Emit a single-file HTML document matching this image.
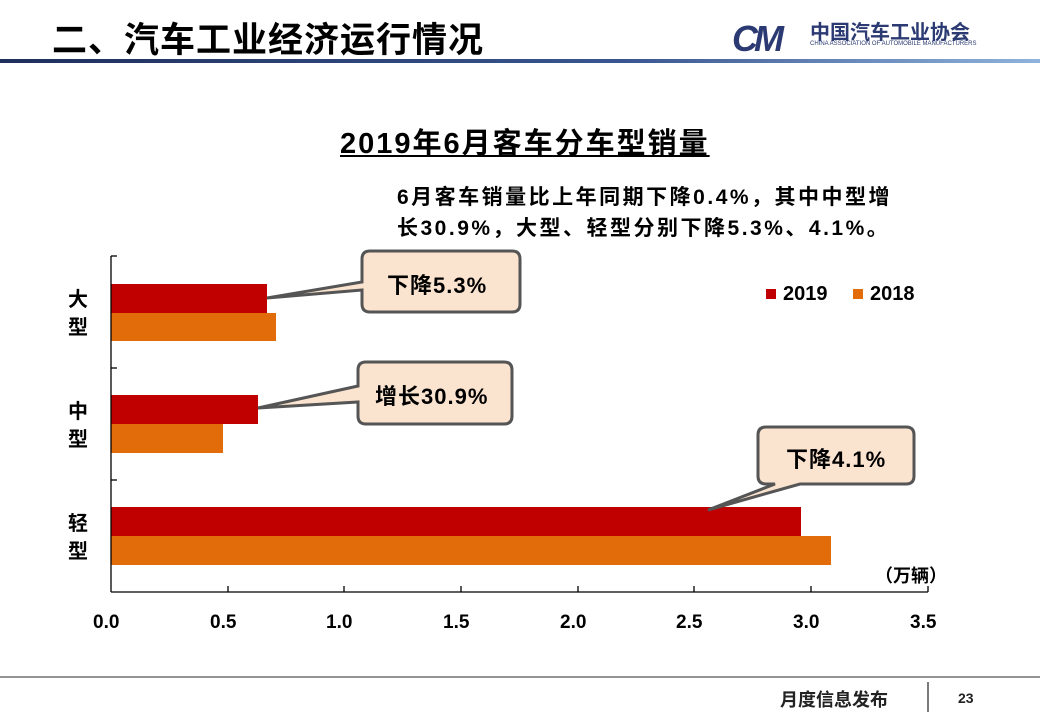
<!DOCTYPE html>
<html><head><meta charset="utf-8"><style>
body{margin:0;width:1040px;height:720px;background:#fff;overflow:hidden;position:relative;font-family:"Liberation Sans","Noto Sans CJK SC",sans-serif;}
.a{position:absolute;font-weight:bold;color:#000;white-space:nowrap}
</style></head><body>
<div class="a" style="left:52px;top:12px;font-size:35px;letter-spacing:1px">二、汽车工业经济运行情况</div>
<div style="position:absolute;left:0;top:59px;width:1040px;height:4px;background:linear-gradient(90deg,#1e2f5c,#3a5590 60%,#8fb3dc)"></div>
<div class="a" style="left:732px;top:18px;font-size:36px;color:#2b3a72;font-style:italic;letter-spacing:-4px">CM</div>
<div class="a" style="left:810px;top:16px;font-size:20px;color:#2b3a72">中国汽车工业协会</div>
<div class="a" style="left:810px;top:41px;font-size:6px;color:#2b3a72;font-weight:normal">CHINA ASSOCIATION OF AUTOMOBILE MANUFACTURERS</div>
<div class="a" style="left:340px;top:120px;font-size:29px;letter-spacing:2px;text-decoration:underline">2019年6月客车分车型销量</div>
<div class="a" style="left:397px;top:182px;font-size:21px;letter-spacing:2.5px;line-height:31px">6月客车销量比上年同期下降0.4%，其中中型增<br>长30.9%，大型、轻型分别下降5.3%、4.1%。</div>
<svg style="position:absolute;left:0;top:0" width="1040" height="720">
<g fill="#c00000"><rect x="111" y="284" width="156" height="29"/><rect x="111" y="395" width="147" height="29"/><rect x="111" y="507" width="690" height="29"/></g>
<g fill="#e36c0a"><rect x="111" y="313" width="165" height="28"/><rect x="111" y="424" width="112" height="29"/><rect x="111" y="536" width="720" height="29"/></g>
<g stroke="#000" stroke-width="1.3" fill="none">
<line x1="111" y1="256" x2="111" y2="592"/><line x1="111" y1="592" x2="928" y2="592"/>
<line x1="111" y1="256" x2="117" y2="256"/><line x1="111" y1="368" x2="117" y2="368"/><line x1="111" y1="480" x2="117" y2="480"/>
<line x1="228" y1="586" x2="228" y2="592"/><line x1="344" y1="586" x2="344" y2="592"/><line x1="461" y1="586" x2="461" y2="592"/><line x1="578" y1="586" x2="578" y2="592"/><line x1="694" y1="586" x2="694" y2="592"/><line x1="811" y1="586" x2="811" y2="592"/><line x1="928" y1="586" x2="928" y2="592"/>
</g>
<g fill="#fbe4cf" stroke="#555" stroke-width="3">
<path d="M370,251 H512 Q520,251 520,259 V304 Q520,312 512,312 H370 Q362,312 362,304 V290 L267,298 L362,282 V259 Q362,251 370,251Z"/>
<path d="M366,362 H504 Q512,362 512,370 V416 Q512,424 504,424 H366 Q358,424 358,416 V402 L258,408 L358,386 V370 Q358,362 366,362Z"/>
<path d="M766,427 H906 Q914,427 914,435 V476 Q914,484 906,484 H800 L708,510 L775,484 H766 Q758,484 758,476 V435 Q758,427 766,427Z"/>
</g>
<line x1="0" y1="677" x2="1040" y2="677" stroke="#555" stroke-width="1.3"/>
<line x1="928" y1="682" x2="928" y2="712" stroke="#333" stroke-width="1.3"/>
<rect x="766" y="289" width="10" height="10" fill="#c00000"/><rect x="853" y="289" width="10" height="10" fill="#e36c0a"/>
</svg>
<div class="a" style="left:387px;top:268px;font-size:22px;letter-spacing:1px">下降5.3%</div>
<div class="a" style="left:375px;top:379px;font-size:22px;letter-spacing:1px">增长30.9%</div>
<div class="a" style="left:786px;top:442px;font-size:22px;letter-spacing:1px">下降4.1%</div>
<div class="a" style="left:783px;top:283px;font-size:20px">2019</div>
<div class="a" style="left:870px;top:283px;font-size:20px">2018</div>
<div class="a" style="left:68px;top:286px;font-size:20px;line-height:28px">大<br>型</div>
<div class="a" style="left:68px;top:398px;font-size:20px;line-height:28px">中<br>型</div>
<div class="a" style="left:68px;top:510px;font-size:20px;line-height:28px">轻<br>型</div>
<div class="a" style="left:875px;top:562px;font-size:18px">（万辆）</div>
<div class="a" style="left:93px;top:612px;font-size:19px">0.0</div>
<div class="a" style="left:210px;top:612px;font-size:19px">0.5</div>
<div class="a" style="left:326px;top:612px;font-size:19px">1.0</div>
<div class="a" style="left:443px;top:612px;font-size:19px">1.5</div>
<div class="a" style="left:560px;top:612px;font-size:19px">2.0</div>
<div class="a" style="left:676px;top:612px;font-size:19px">2.5</div>
<div class="a" style="left:793px;top:612px;font-size:19px">3.0</div>
<div class="a" style="left:910px;top:612px;font-size:19px">3.5</div>
<div class="a" style="left:780px;top:686px;font-size:18px;color:#222">月度信息发布</div>
<div class="a" style="left:958px;top:690px;font-size:14px;color:#222">23</div>
</body></html>
